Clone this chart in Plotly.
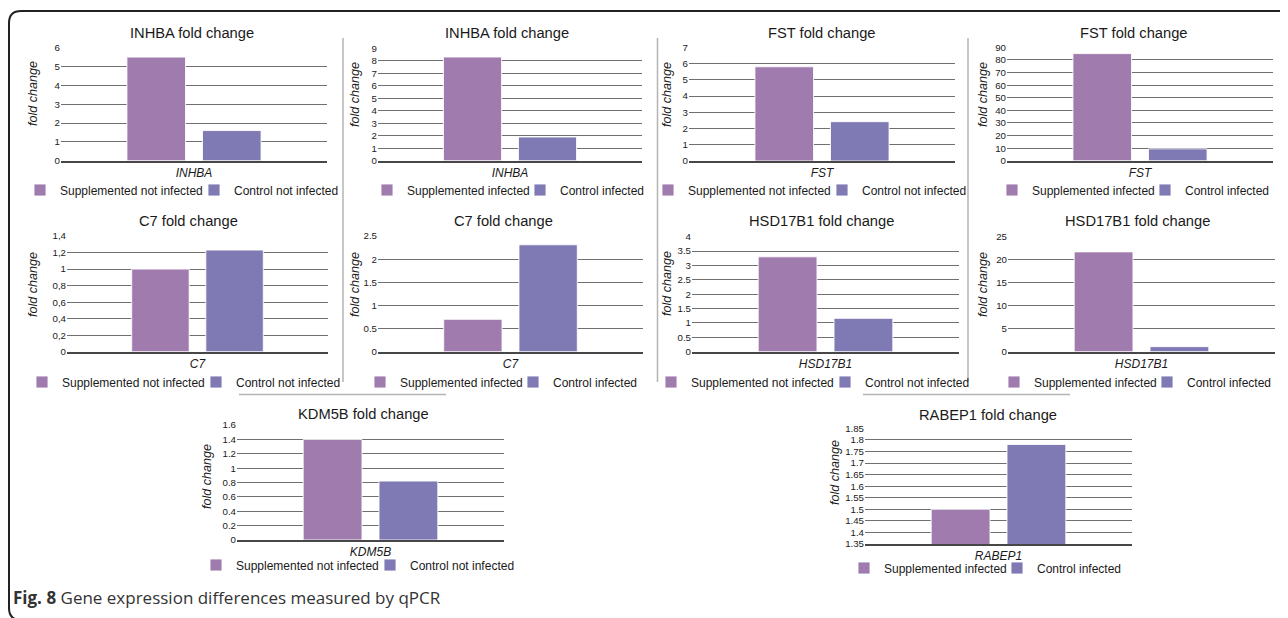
import plotly.graph_objects as go

# The page body keeps its default 8 px margin, so the figure is drawn 8 px in from the window corner.
OX, OY = 8, 8
W, H = 1280, 610
FONT = "Liberation Sans, Arial, sans-serif"

# ---------------- data ----------------
genes = ["INHBA", "INHBA", "FST", "FST", "C7", "C7", "HSD17B1", "HSD17B1", "KDM5B", "RABEP1"]
titles = ["INHBA fold change", "INHBA fold change", "FST fold change", "FST fold change",
          "C7 fold change", "C7 fold change", "HSD17B1 fold change", "HSD17B1 fold change",
          "KDM5B fold change", "RABEP1 fold change"]
series_a_names = ["Supplemented not infected", "Supplemented infected",
                  "Supplemented not infected", "Supplemented infected",
                  "Supplemented not infected", "Supplemented infected",
                  "Supplemented not infected", "Supplemented infected",
                  "Supplemented not infected", "Supplemented infected"]
series_b_names = ["Control not infected", "Control infected",
                  "Control not infected", "Control infected",
                  "Control not infected", "Control infected",
                  "Control not infected", "Control infected",
                  "Control not infected", "Control infected"]
values_a = [5.5, 8.3, 5.8, 85.0, 1.0, 0.7, 3.3, 21.7, 1.4, 1.5]
values_b = [1.6, 1.9, 2.42, 9.4, 1.23, 2.31, 1.16, 1.1, 0.82, 1.78]

y_ranges = [[0, 6], [0, 9], [0, 7], [0, 90], [0, 1.4], [0, 2.5], [0, 4], [0, 25], [0, 1.6], [1.35, 1.85]]
tick_vals = [
    [0, 1, 2, 3, 4, 5, 6],
    [0, 1, 2, 3, 4, 5, 6, 7, 8, 9],
    [0, 1, 2, 3, 4, 5, 6, 7],
    [0, 10, 20, 30, 40, 50, 60, 70, 80, 90],
    [0, 0.2, 0.4, 0.6, 0.8, 1.0, 1.2, 1.4],
    [0, 0.5, 1.0, 1.5, 2.0, 2.5],
    [0, 0.5, 1.0, 1.5, 2.0, 2.5, 3.0, 3.5, 4.0],
    [0, 5, 10, 15, 20, 25],
    [0, 0.2, 0.4, 0.6, 0.8, 1.0, 1.2, 1.4, 1.6],
    [1.35, 1.4, 1.45, 1.5, 1.55, 1.6, 1.65, 1.7, 1.75, 1.8, 1.85],
]
tick_text = [
    ["0", "1", "2", "3", "4", "5", "6"],
    ["0", "1", "2", "3", "4", "5", "6", "7", "8", "9"],
    ["0", "1", "2", "3", "4", "5", "6", "7"],
    ["0", "10", "20", "30", "40", "50", "60", "70", "80", "90"],
    ["0", "0,2", "0,4", "0,6", "0,8", "1", "1,2", "1,4"],
    ["0", "0.5", "1", "1.5", "2", "2.5"],
    ["0", "0.5", "1", "1.5", "2", "2.5", "3", "3.5", "4"],
    ["0", "5", "10", "15", "20", "25"],
    ["0", "0.2", "0.4", "0.6", "0.8", "1", "1.2", "1.4", "1.6"],
    ["1.35", "1.4", "1.45", "1.5", "1.55", "1.6", "1.65", "1.7", "1.75", "1.8", "1.85"],
]
y_title = "fold change"
caption_bold = "Fig. 8"
caption_text = "Gene expression differences measured by qPCR"

# ---------------- layout geometry (window pixels) ----------------
# plot area: left, right, top, bottom
plot_px = [(61, 327, 47.7, 160.7), (378, 642, 48.3, 160.7), (689, 955, 47.3, 161), (1007, 1273, 47.3, 160.7),
           (67, 328, 236, 351.7), (378, 643, 236, 351.7), (692, 959, 236.7, 351.7), (1008, 1275, 236.7, 351.7),
           (237, 504, 425, 540), (865, 1132, 428.3, 544)]
title_px = [(192, 33), (507, 33), (822, 33), (1134, 33), (188, 221), (503, 221), (821, 221), (1137, 221),
            (363, 414), (988, 415)]
ytitle_px = [(33, 94), (355, 95), (667, 95), (983, 95), (33, 285), (355, 285), (667, 284), (983, 285),
             (207, 477), (835, 473)]
# legend: left edge x, centre y, entry width
legend_px = [(20, 190, 129), (367, 190, 108), (648, 190, 129), (992, 190, 108),
             (22, 382, 129), (360, 382, 108), (651, 382, 129), (994, 382, 108),
             (196, 565, 129), (844, 568, 108)]

COL_A = "#A07BAE"
COL_B = "#7F7AB3"


def px_x(x):
    return (x - OX) / W


def px_y(y):
    return 1 - (y - OY) / H


fig = go.Figure()
annotations = []
layout_axes = {}

for i in range(10):
    n = i + 1
    xa = "x" if n == 1 else f"x{n}"
    ya = "y" if n == 1 else f"y{n}"
    lg = "legend" if n == 1 else f"legend{n}"
    fig.add_trace(go.Bar(x=[genes[i]], y=[values_a[i]], name=series_a_names[i], xaxis=xa, yaxis=ya,
                         legend=lg, marker=dict(color=COL_A, line=dict(color="rgba(255,255,255,0.85)", width=1)),
                         hoverinfo="y+name"))
    fig.add_trace(go.Bar(x=[genes[i]], y=[values_b[i]], name=series_b_names[i], xaxis=xa, yaxis=ya,
                         legend=lg, marker=dict(color=COL_B, line=dict(color="rgba(255,255,255,0.85)", width=1)),
                         hoverinfo="y+name"))
    l, r, t, b = plot_px[i]
    layout_axes["xaxis" if n == 1 else f"xaxis{n}"] = dict(
        domain=[px_x(l), px_x(r)], anchor=ya, showgrid=False, zeroline=False,
        showline=True, linecolor="#474747", linewidth=2, ticks="", automargin=False,
        tickfont=dict(family=FONT, size=12, color="#1a1a1a", style="italic"), fixedrange=True)
    layout_axes["yaxis" if n == 1 else f"yaxis{n}"] = dict(
        domain=[px_y(b), px_y(t)], anchor=xa, range=y_ranges[i], tickmode="array",
        tickvals=tick_vals[i], ticktext=tick_text[i], showgrid=True, gridcolor="#707070", gridwidth=1,
        zeroline=False, showline=False, ticks="", automargin=False,
        tickfont=dict(family=FONT, size=9.7, color="#1a1a1a"), fixedrange=True)
    lx, ly, ew = legend_px[i]
    layout_axes[lg] = dict(orientation="h", x=px_x(lx), xanchor="left",
                           y=px_y(ly), yanchor="middle", bgcolor="rgba(0,0,0,0)",
                           font=dict(family=FONT, size=12, color="#1a1a1a"), tracegroupgap=0,
                           itemwidth=30, entrywidth=ew, entrywidthmode="pixels", borderwidth=0)
    annotations.append(dict(text=titles[i], x=px_x(title_px[i][0]), y=px_y(title_px[i][1]),
                            xref="paper", yref="paper", showarrow=False, xanchor="center", yanchor="middle",
                            font=dict(family=FONT, size=14.7, color="#1a1a1a")))
    annotations.append(dict(text=y_title, x=px_x(ytitle_px[i][0]), y=px_y(ytitle_px[i][1]),
                            xref="paper", yref="paper", showarrow=False, textangle=-90,
                            xanchor="center", yanchor="middle",
                            font=dict(family=FONT, size=12.6, color="#1a1a1a", style="italic")))

annotations.append(dict(text=f"<b>{caption_bold}</b> {caption_text}", x=px_x(11), y=px_y(597),
                        xref="paper", yref="paper", showarrow=False, xanchor="left", yanchor="middle",
                        font=dict(family="Open Sans, sans-serif", size=17.0, color="#333333")))

# decorative panel borders
GRAY = "#b4b4b4"
shapes = []
for (x0, y0, x1, y1) in [(343, 38, 343, 382), (657.5, 38, 657.5, 382), (968, 38, 968, 382),
                         (239, 394.5, 446, 394.5), (863, 394.5, 1070, 394.5)]:
    shapes.append(dict(type="line", xref="paper", yref="paper", x0=px_x(x0), y0=px_y(y0), x1=px_x(x1),
                       y1=px_y(y1), line=dict(color=GRAY, width=1.5), layer="below"))


# rounded outer frame
def P(x, y):
    return f"{px_x(x):.5f},{px_y(y):.5f}"


frame = (f"M {P(1300, 11)} L {P(21, 11)} Q {P(9, 11)} {P(9, 23)} L {P(9, 608)} "
         f"Q {P(9, 620)} {P(21, 620)} L {P(1300, 620)}")
shapes.append(dict(type="path", xref="paper", yref="paper", path=frame,
                   line=dict(color="#222222", width=2)))

fig.update_layout(
    width=W, height=H, template="none",
    margin=dict(l=0, r=0, t=0, b=0, pad=0, autoexpand=False),
    paper_bgcolor="white", plot_bgcolor="white",
    barmode="group", bargap=0.432, bargroupgap=0.225,
    font=dict(family=FONT, color="#1a1a1a"),
    annotations=annotations, shapes=shapes, showlegend=True,
    **layout_axes,
)

fig.write_html("out.html")
